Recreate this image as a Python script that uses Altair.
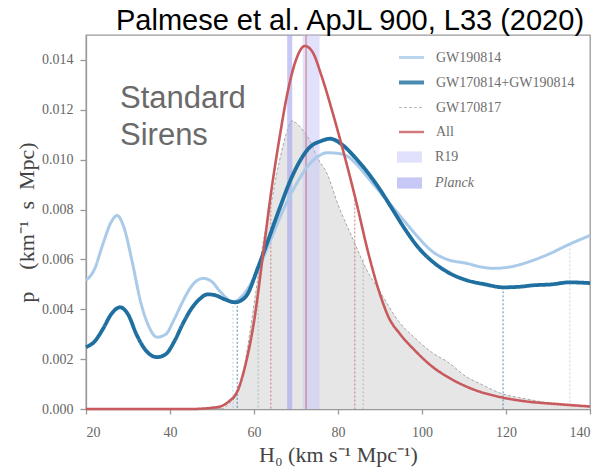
import altair as alt
import pandas as pd

# H0 posteriors (km s^-1 Mpc^-1) for each standard-siren analysis
h0_gw190814 = [20, 22, 24, 26, 27.4, 29, 31, 33, 35, 36.9, 39, 41, 43, 45, 47.9, 50, 52, 55, 58, 61,
               64, 67, 70, 73.3, 75, 77.4, 80, 82, 84.5, 87, 90, 93, 96, 99, 102.6, 106, 110.7, 114, 117, 121,
               126.4, 130, 135, 140]
p_gw190814 = [0.00516, 0.0056, 0.0066, 0.0075, 0.00776, 0.0073, 0.0059, 0.0043, 0.0033, 0.00288,
              0.0030, 0.0036, 0.0043, 0.0049, 0.00524, 0.0051, 0.0047, 0.0043, 0.0047, 0.0056,
              0.0068, 0.0080, 0.0090, 0.00984, 0.0101, 0.01028, 0.01025, 0.01016, 0.0098, 0.0093,
              0.0087, 0.0081, 0.0075, 0.0069, 0.0063, 0.0060, 0.00584, 0.0057, 0.00564, 0.0057,
              0.00596, 0.0062, 0.0066, 0.00696]

h0_combined = [20, 22, 24, 26, 28.1, 30, 32, 34, 36.9, 39, 41, 43, 45, 47, 49, 51, 53, 55.5, 58, 61,
               63, 66, 69, 73.3, 76, 78.1, 81, 84, 87, 90, 93, 96, 99, 102.6, 106, 110.7, 115, 119.3, 123, 126.4,
               131, 135, 140]
p_combined = [0.00248, 0.0027, 0.0032, 0.0038, 0.00408, 0.0038, 0.0030, 0.0024, 0.00208, 0.0022,
              0.0027, 0.0034, 0.0040, 0.0044, 0.0046, 0.00455, 0.0044, 0.00428, 0.0045, 0.0057,
              0.0066, 0.0080, 0.0093, 0.0105, 0.01075, 0.01084, 0.0106, 0.0101, 0.0095, 0.0088,
              0.0080, 0.0072, 0.0065, 0.0059, 0.0055, 0.00516, 0.0050, 0.00488, 0.0049, 0.00496,
              0.0050, 0.00508, 0.00505]

h0_gw170817 = [20, 52, 54, 56.7, 58.5, 60.7, 62, 63.8, 66, 68, 69, 70.5, 72, 73.3, 75, 77.4, 80, 83.6, 86.9, 90,
               94.8, 98, 102.6, 106, 110.7, 114, 118.6, 125, 132, 140]
p_gw170817 = [0, 0, 0.0002, 0.00088, 0.0025, 0.0050, 0.0065, 0.0080, 0.0099, 0.0112,
              0.01156, 0.0114, 0.0111, 0.01076, 0.0101, 0.00944, 0.0082, 0.0068, 0.00556, 0.0047,
              0.00344, 0.0029, 0.00224, 0.0019, 0.00128, 0.0010, 0.00064, 0.0004, 0.0002, 0.0001]

h0_all = [20, 45, 50, 52, 54, 56, 58, 60, 62, 64, 66, 68, 70, 72.1, 74, 76, 78.8, 81, 84.5, 87,
          90, 92, 94.8, 98, 102.6, 107, 112, 118.6, 125, 132, 140]
p_all = [0, 0, 0.00005, 0.0001, 0.0003, 0.0007, 0.0018, 0.0035, 0.0060, 0.0086,
         0.0108, 0.0127, 0.0140, 0.01456, 0.0143, 0.0134, 0.01184, 0.0105, 0.0082, 0.0064,
         0.0046, 0.0037, 0.0030, 0.0024, 0.00168, 0.0012, 0.0008, 0.00048, 0.0003, 0.0002, 0.0001]

# credible-interval bounds drawn as dotted drop lines
interval_series = ["All", "All", "GW170814+GW190814", "GW170814+GW190814",
                   "GW190814", "GW190814", "GW170817", "GW170817"]
interval_h0 = [64, 84, 56, 119.3, 55, 135.2, 61, 86]
interval_p = [0.0086, 0.0084, 0.0043, 0.00488, 0.0043, 0.0066, 0.0056, 0.0060]
all_median = 72.4

# external H0 measurements
band_names = ["R19", "Planck"]
band_lo = [71.6, 67.9]
band_hi = [75.6, 69.1]

x_ticks = [20, 40, 60, 80, 100, 120, 140]
y_ticks = [0.0, 0.002, 0.004, 0.006, 0.008, 0.010, 0.012, 0.014]

series_domain = ["GW190814", "GW170814+GW190814", "GW170817", "All"]
series_colors = ["#a9cbe9", "#1f6fa0", "#a8a8a8", "#c8595c"]
series_widths = [3, 3.8, 1, 2.6]
series_dashes = [[1, 0], [1, 0], [3, 2], [1, 0]]

W, H = 504, 374

def frame(h0, p, name):
    return pd.DataFrame({"h0": h0, "p": p, "series": name})

curves = {
    "GW190814": frame(h0_gw190814, p_gw190814, "GW190814"),
    "GW170814+GW190814": frame(h0_combined, p_combined, "GW170814+GW190814"),
    "GW170817": frame(h0_gw170817, p_gw170817, "GW170817"),
    "All": frame(h0_all, p_all, "All"),
}

x_scale = alt.Scale(domain=[20, 140], nice=False, zero=False)
y_scale = alt.Scale(domain=[0, 0.015], nice=False)
x_axis = alt.Axis(values=x_ticks, title="H₀ (km s⁻¹ Mpc⁻¹)")
y_axis = alt.Axis(values=y_ticks, format=".3f", title="p\u2003(km⁻¹\u2002s\u2002Mpc)")
x_enc = alt.X("h0:Q", scale=x_scale, axis=x_axis)
y_enc = alt.Y("p:Q", scale=y_scale, axis=y_axis)

line_legend = alt.Legend(
    orient="none", legendX=311, legendY=8.5, title=None,
    symbolType="stroke", symbolSize=625, rowPadding=3.5, padding=0,
    labelFont="Liberation Serif", labelFontSize=14, labelColor="#6e6e6e", labelOffset=10,
)
color_enc = alt.Color("series:N", scale=alt.Scale(domain=series_domain, range=series_colors),
                      legend=line_legend)
width_enc = alt.StrokeWidth("series:N",
                            scale=alt.Scale(type="ordinal", domain=series_domain, range=series_widths),
                            legend=line_legend)
dash_enc = alt.StrokeDash("series:N", scale=alt.Scale(domain=series_domain, range=series_dashes),
                          legend=line_legend)

fill_layer = alt.Chart(curves["GW170817"]).mark_area(
    interpolate="monotone", color="#e6e6e6"
).encode(x=x_enc, y=y_enc)

bands = pd.DataFrame({"band": band_names, "lo": band_lo, "hi": band_hi})
band_layer = alt.Chart(bands).mark_rect(opacity=0.55).encode(
    x=alt.X("lo:Q", scale=x_scale, axis=x_axis),
    x2="hi:Q",
    fill=alt.Fill(
        "band:N",
        scale=alt.Scale(domain=band_names, range=["#c9c9f7", "#9a9af0"]),
        legend=alt.Legend(
            orient="none", legendX=311, legendY=109.5, title=None,
            symbolType="M-1,-0.45H1V0.45H-1Z", symbolSize=625, rowPadding=6, padding=0,
            symbolStrokeWidth=0,
            labelFont="Liberation Serif", labelFontSize=14, labelColor="#6e6e6e", labelOffset=13,
            labelFontStyle=alt.ExprRef("datum.label == 'Planck' ? 'italic' : 'normal'"),
        ),
    ),
)

intervals = pd.DataFrame({"h0": interval_h0, "p": interval_p, "series": interval_series})
interval_layer = alt.Chart(intervals).mark_rule(strokeDash=[2, 2], strokeWidth=1, opacity=0.8).encode(
    x=x_enc, y=y_enc, y2=alt.Y2(datum=0), color=color_enc
)

median_layer = alt.Chart(pd.DataFrame({"h0": [all_median]})).mark_rule(
    color="#c8595c", opacity=0.55, strokeWidth=1.5
).encode(x=x_enc)

line_layers = [
    alt.Chart(curves[name]).mark_line(interpolate="monotone").encode(
        x=x_enc, y=y_enc, color=color_enc, strokeWidth=width_enc, strokeDash=dash_enc
    )
    for name in ["GW170817", "GW190814", "GW170814+GW190814", "All"]
]

title_layer = alt.Chart(pd.DataFrame({"t": ["Palmese  et al. ApJL 900, L33 (2020)"]})).mark_text(
    font="Liberation Sans", fontSize=29, align="center", baseline="alphabetic", color="#000000"
).encode(x=alt.value(264), y=alt.value(-5), text="t:N")

label_layer = alt.Chart(pd.DataFrame({"t": ["Standard\nSirens"]})).mark_text(
    font="Liberation Sans", fontSize=31, align="left", baseline="alphabetic",
    color="#6a6a6a", lineBreak="\n", lineHeight=37
).encode(x=alt.value(34), y=alt.value(73), text="t:N")

chart = alt.layer(
    fill_layer, band_layer, interval_layer, median_layer, *line_layers, title_layer, label_layer
).properties(
    width=W, height=H,
    autosize=alt.AutoSizeParams(type="none"),
    padding={"left": 86, "top": 35, "right": 11, "bottom": 64},
).configure_view(
    stroke="#999999", strokeWidth=1.3
).configure_axis(
    grid=False, domainColor="#999999", domainWidth=1.3, tickColor="#999999", tickWidth=1.3,
    labelFont="Liberation Serif", labelColor="#666666", labelFontSize=14,
    titleFont="Liberation Serif", titleColor="#444444", titleFontSize=22, titleFontWeight="normal",
).configure_axisX(
    tickSize=5, labelPadding=11, titlePadding=5
).configure_axisY(
    tickSize=6, labelPadding=7, titlePadding=3
)

chart.save("out.html", embed_options={"renderer": "svg", "actions": False})
